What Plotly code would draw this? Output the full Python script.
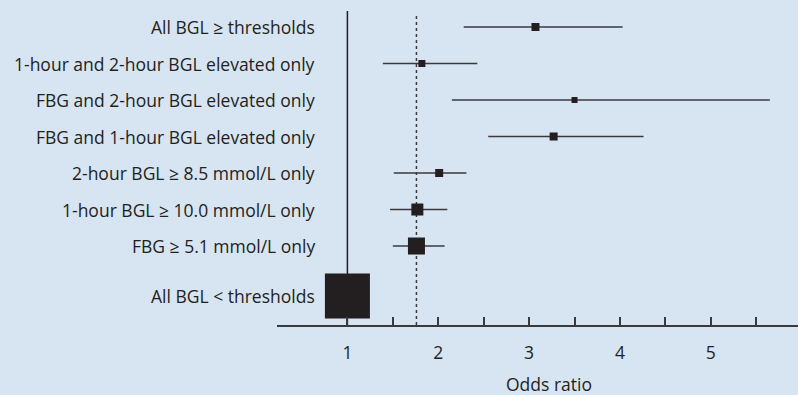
import plotly.graph_objects as go

# ---- data ----
categories = [
    "All BGL ≥ thresholds",
    "1-hour and 2-hour BGL elevated only",
    "FBG and 2-hour BGL elevated only",
    "FBG and 1-hour BGL elevated only",
    "2-hour BGL ≥ 8.5 mmol/L only",
    "1-hour BGL ≥ 10.0 mmol/L only",
    "FBG ≥ 5.1 mmol/L only",
    "All BGL < thresholds",
]
odds_ratio = [3.07, 1.82, 3.50, 3.27, 2.01, 1.77, 1.76, 1.00]
ci_lower = [2.28, 1.39, 2.15, 2.55, 1.51, 1.47, 1.50, 1.00]
ci_upper = [4.03, 2.43, 5.65, 4.26, 2.31, 2.10, 2.07, 1.00]
pooled_or = 1.76
x_tickvals = [1, 1.5, 2, 2.5, 3, 3.5, 4, 4.5, 5, 5.5]
x_ticktext = ["1", "", "2", "", "3", "", "4", "", "5", ""]

# ---- style / layout ----
marker_sizes = [8, 7, 6, 8, 8, 12, 17, 45]
ref_gap = 0.37
row_pos = [i + (ref_gap if i == len(categories) - 1 else 0) for i in range(len(categories))]
bg = "#d7e4f1"
ink = "#231f20"
line_col = "#3a3a3c"
font_family = "Open Sans, sans-serif"
fs = 17.5

fig = go.Figure()
# confidence-interval lines
fig.add_trace(go.Scatter(
    x=odds_ratio,
    y=row_pos,
    mode="markers",
    marker=dict(size=1, color="rgba(0,0,0,0)"),
    error_x=dict(
        type="data", symmetric=False,
        array=[u - o for u, o in zip(ci_upper, odds_ratio)],
        arrayminus=[o - l for o, l in zip(odds_ratio, ci_lower)],
        width=0, thickness=1.5, color=line_col,
    ),
    showlegend=False,
    hoverinfo="skip",
))
# point estimates
fig.add_trace(go.Scatter(
    x=odds_ratio,
    y=row_pos,
    mode="markers",
    marker=dict(symbol="square", size=marker_sizes, color=ink, opacity=1,
                line=dict(width=0)),
    showlegend=False,
    hoverinfo="skip",
    cliponaxis=False,
))

# reference lines
fig.add_shape(type="line", xref="x", yref="paper", x0=1, x1=1, y0=0, y1=0.997,
              line=dict(color=ink, width=1.5), layer="below")
fig.add_shape(type="line", xref="x", yref="paper", x0=pooled_or, x1=pooled_or, y0=0, y1=0.984,
              line=dict(color=line_col, width=1.5, dash="dot"), layer="below")

# row labels
for cat, yp in zip(categories, row_pos):
    fig.add_annotation(text=cat, xref="paper", yref="y", x=0.077, y=yp,
                       xanchor="right", yanchor="middle", showarrow=False,
                       font=dict(family=font_family, size=fs, color=ink))

fig.add_annotation(text="Odds ratio", xref="paper", yref="paper", x=0.523, y=-0.186,
                   xanchor="center", yanchor="middle", showarrow=False,
                   font=dict(family=font_family, size=fs, color=ink))

fig.update_layout(
    width=798, height=395,
    paper_bgcolor=bg, plot_bgcolor=bg,
    margin=dict(l=277, r=0, t=10, b=70),
    font=dict(family=font_family, size=fs, color=ink),
    xaxis=dict(
        range=[0.225, 5.96],
        tickvals=x_tickvals, ticktext=x_ticktext,
        ticks="inside", ticklen=8, tickwidth=1.5, tickcolor=line_col,
        showline=True, linecolor=line_col, linewidth=1.5,
        showgrid=False, zeroline=False,
        ticklabelstandoff=11,
        tickfont=dict(family=font_family, size=fs, color=ink),
    ),
    yaxis=dict(
        range=[8.164, -0.466],
        showticklabels=False, showgrid=False, zeroline=False, showline=False, ticks="",
    ),
)

fig.write_html("out.html", config={"displayModeBar": False},
               post_script="document.body.style.margin='0';")
